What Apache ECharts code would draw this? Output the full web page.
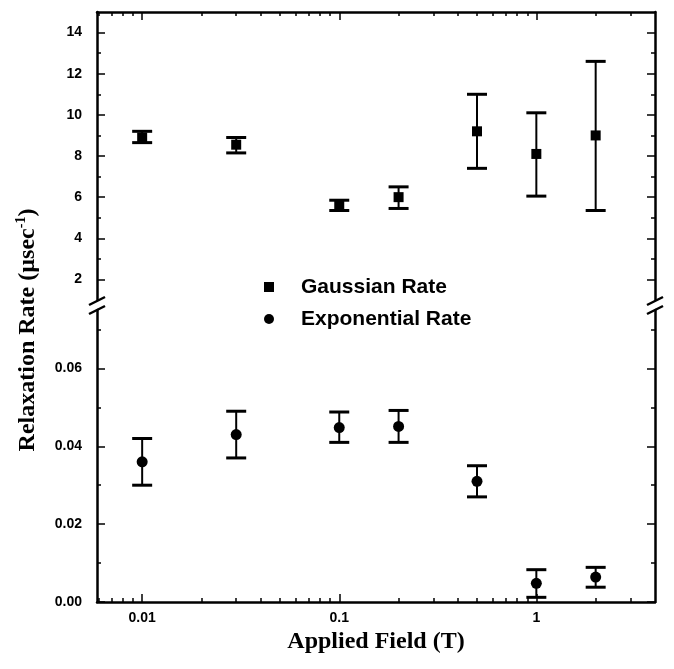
<!DOCTYPE html>
<html>
<head>
<meta charset="utf-8">
<script src="https://cdn.jsdelivr.net/npm/echarts@6/dist/echarts.min.js"></script>
<style>
  html, body { margin: 0; padding: 0; background: #fff; }
  #chart { width: 674px; height: 669px; }
</style>
</head>
<body>
<div id="chart"></div>
<script>
// applied field (T) for both series
const fields = [0.01, 0.03, 0.1, 0.2, 0.5, 1, 2]
// Gaussian relaxation rate (usec^-1) with error limits
const gaussRate = [8.9, 8.55, 5.6, 6.0, 9.2, 8.1, 9.0]
const gaussLow = [8.65, 8.15, 5.35, 5.45, 7.4, 6.05, 5.35]
const gaussHigh = [9.2, 8.9, 5.85, 6.5, 11.0, 10.1, 12.6]
// exponential relaxation rate (usec^-1) with error limits
const expRate = [0.036, 0.043, 0.0448, 0.0451, 0.031, 0.0048, 0.0064]
const expLow = [0.030, 0.037, 0.041, 0.041, 0.027, 0.0012, 0.0038]
const expHigh = [0.042, 0.049, 0.0488, 0.0492, 0.035, 0.0083, 0.0089]

// ticks and labels
const xMajorTicks = [0.01, 0.1, 1]
const xMajorLabels = ['0.01', '0.1', '1']
const xMinorTicks = [0.006, 0.007, 0.008, 0.009, 0.02, 0.03, 0.04, 0.05, 0.06, 0.07, 0.08, 0.09,
  0.2, 0.3, 0.4, 0.5, 0.6, 0.7, 0.8, 0.9, 2, 3]
const topMajorTicks = [2, 4, 6, 8, 10, 12, 14]
const topMinorTicks = [3, 5, 7, 9, 11, 13]
const bottomMajorTicks = [0, 0.02, 0.04, 0.06]
const bottomMinorTicks = [0.01, 0.03, 0.05, 0.07]

const xMin = 0.0059
const xMax = 4
const labelFont = { color: '#000', fontFamily: 'Liberation Sans', fontWeight: 'bold', fontSize: 14 }
const frame = { show: true, lineStyle: { color: '#000', width: 2.5 } }

function xAxisOf(grid, position, ticks, len, withLine, labels) {
  return {
    type: 'log', gridIndex: grid, position: position, min: xMin, max: xMax,
    axisLine: withLine ? frame : { show: false },
    axisTick: { show: true, inside: true, length: len, customValues: ticks, lineStyle: { color: '#000', width: 1.5 } },
    axisLabel: labels ? Object.assign({
      show: true, margin: 9, customValues: xMajorTicks,
      formatter: function(v) {
        const i = xMajorTicks.findIndex(t => Math.abs(t - v) < t * 1e-6)
        return i >= 0 ? xMajorLabels[i] : ''
      }
    }, labelFont) : { show: false },
    splitLine: { show: false }
  }
}

function yAxisOf(grid, position, min, max, ticks, len, withLine, labels, fmt) {
  return {
    type: 'value', gridIndex: grid, position: position, min: min, max: max,
    axisLine: withLine ? frame : { show: false },
    axisTick: { show: true, inside: true, length: len, customValues: ticks, lineStyle: { color: '#000', width: 1.5 } },
    axisLabel: labels ? Object.assign({ show: true, margin: 15, customValues: labels, formatter: fmt }, labelFont) : { show: false },
    splitLine: { show: false }
  }
}

function errorBar(params, api) {
  const x = api.value(0)
  const top = api.coord([x, api.value(2)])
  const bot = api.coord([x, api.value(1)])
  const w = 10
  const st = { stroke: '#000', lineWidth: 2 }
  const cap = { stroke: '#000', lineWidth: 3 }
  return {
    type: 'group',
    children: [
      { type: 'line', shape: { x1: top[0], y1: top[1], x2: bot[0], y2: bot[1] }, style: st },
      { type: 'line', shape: { x1: top[0] - w, y1: top[1], x2: top[0] + w, y2: top[1] }, style: cap },
      { type: 'line', shape: { x1: bot[0] - w, y1: bot[1], x2: bot[0] + w, y2: bot[1] }, style: cap }
    ]
  }
}

// little "//" marks where the y axis is broken
function breakMark(x, y) {
  return { type: 'line', shape: { x1: x - 8, y1: y + 4, x2: x + 8, y2: y - 4 }, style: { stroke: '#000', lineWidth: 2.5 } }
}

const chart = echarts.init(document.getElementById('chart'))
chart.setOption({
  backgroundColor: '#fff',
  animation: false,
  grid: [
    { left: 97, right: 19, top: 12, height: 288 },
    { left: 97, right: 19, top: 310, height: 292 }
  ],
  xAxis: [
    xAxisOf(0, 'top', xMajorTicks, 8, true, false),
    xAxisOf(0, 'top', xMinorTicks, 4, false, false),
    Object.assign(xAxisOf(1, 'bottom', xMajorTicks, 8, true, true), {
      name: 'Applied Field (T)', nameLocation: 'middle', nameGap: 28,
      nameTextStyle: { color: '#000', fontFamily: 'Liberation Serif', fontWeight: 'bold', fontSize: 24 }
    }),
    xAxisOf(1, 'bottom', xMinorTicks, 4, false, false)
  ],
  yAxis: [
    yAxisOf(0, 'left', 1, 15, topMajorTicks, 8, true, topMajorTicks, v => String(v)),
    yAxisOf(0, 'left', 1, 15, topMinorTicks, 4, false, null),
    yAxisOf(0, 'right', 1, 15, topMajorTicks, 8, true, null),
    yAxisOf(0, 'right', 1, 15, topMinorTicks, 4, false, null),
    yAxisOf(1, 'left', 0, 0.075, bottomMajorTicks, 8, true, bottomMajorTicks, v => v.toFixed(2)),
    yAxisOf(1, 'left', 0, 0.075, bottomMinorTicks, 4, false, null),
    yAxisOf(1, 'right', 0, 0.075, bottomMajorTicks, 8, true, null),
    yAxisOf(1, 'right', 0, 0.075, bottomMinorTicks, 4, false, null)
  ],
  legend: {
    orient: 'vertical', left: 259, top: 271, itemGap: 10,
    itemWidth: 10, itemHeight: 10,
    textStyle: { color: '#000', fontFamily: 'Liberation Sans', fontWeight: 'bold', fontSize: 21, lineHeight: 22, padding: [0, 0, 0, 22] },
    data: [{ name: 'Gaussian Rate', icon: 'rect' }, { name: 'Exponential Rate', icon: 'circle' }]
  },
  graphic: [
    {
      type: 'text', x: 28, y: 330, rotation: Math.PI / 2,
      style: {
        text: '{b|Relaxation Rate (µsec}{s|-1}{b|)}',
        align: 'center', verticalAlign: 'middle', fill: '#000',
        rich: {
          b: { fontFamily: 'Liberation Serif', fontWeight: 'bold', fontSize: 24, lineHeight: 27, fill: '#000' },
          s: { fontFamily: 'Liberation Serif', fontWeight: 'bold', fontSize: 14, lineHeight: 27, verticalAlign: 'top', fill: '#000' }
        }
      }
    },
    breakMark(97, 301), breakMark(97, 310),
    breakMark(655, 301), breakMark(655, 310)
  ],
  series: [
    {
      type: 'custom', name: 'gaussErr', xAxisIndex: 0, yAxisIndex: 0,
      renderItem: errorBar, encode: { x: 0, y: [1, 2] },
      data: fields.map((f, i) => [f, gaussLow[i], gaussHigh[i]]), z: 2
    },
    {
      type: 'scatter', name: 'Gaussian Rate', xAxisIndex: 0, yAxisIndex: 0,
      symbol: 'rect', symbolSize: 10, itemStyle: { color: '#000', opacity: 1 },
      data: fields.map((f, i) => [f, gaussRate[i]]), z: 3
    },
    {
      type: 'custom', name: 'expErr', xAxisIndex: 2, yAxisIndex: 4,
      renderItem: errorBar, encode: { x: 0, y: [1, 2] },
      data: fields.map((f, i) => [f, expLow[i], expHigh[i]]), z: 2
    },
    {
      type: 'scatter', name: 'Exponential Rate', xAxisIndex: 2, yAxisIndex: 4,
      symbol: 'circle', symbolSize: 11, itemStyle: { color: '#000', opacity: 1 },
      data: fields.map((f, i) => [f, expRate[i]]), z: 3
    }
  ]
})
</script>
</body>
</html>
